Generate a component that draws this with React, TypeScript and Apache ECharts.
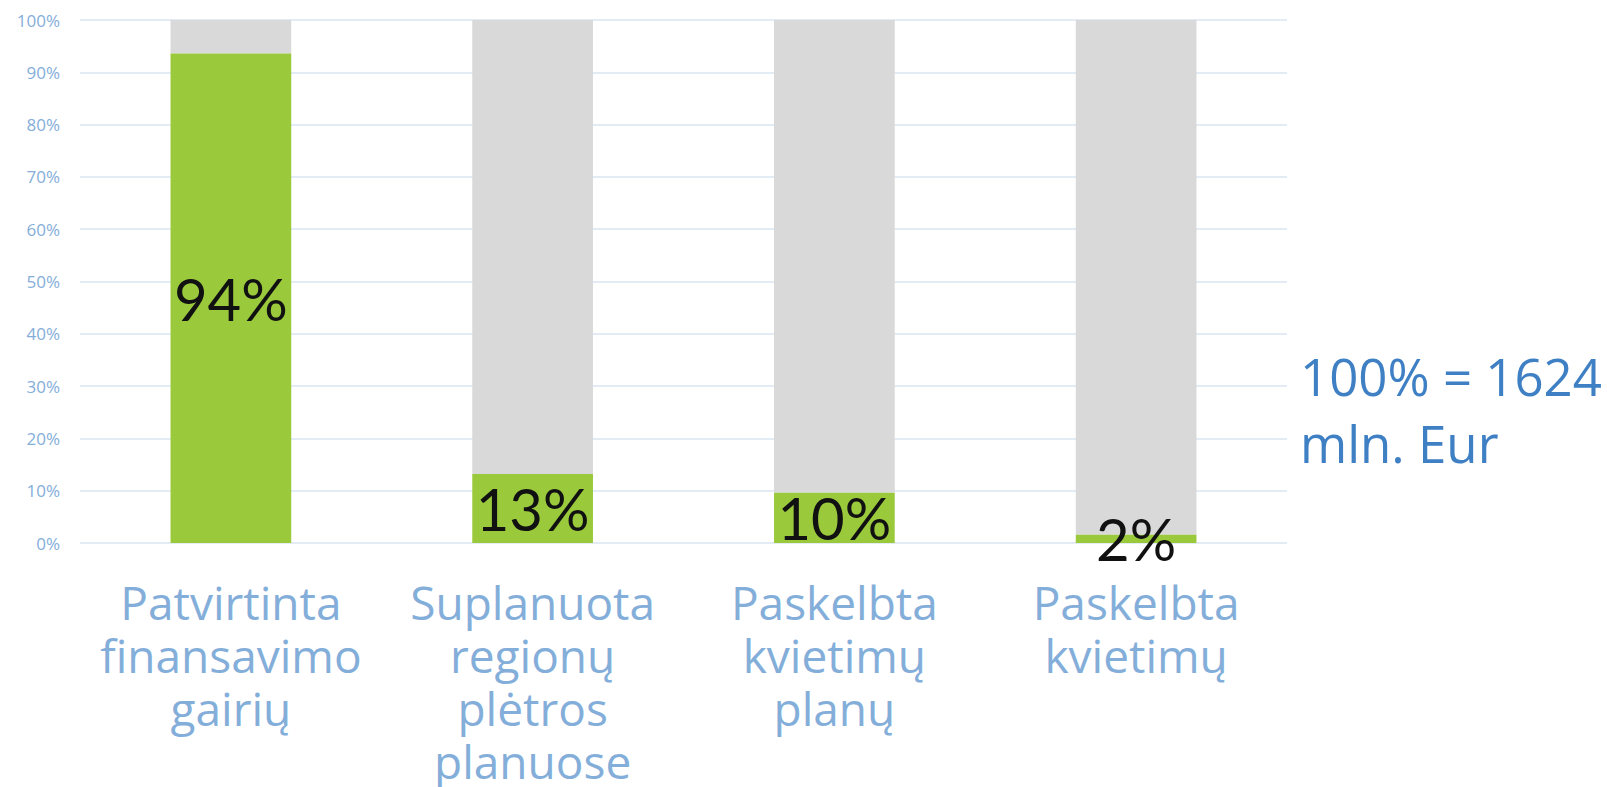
import React, { useEffect, useRef } from "react";
import * as echarts from "echarts";

const categories = [
  "Patvirtinta\nfinansavimo\ngairių",
  "Suplanuota\nregionų\nplėtros\nplanuose",
  "Paskelbta\nkvietimų\nplanų",
  "Paskelbta\nkvietimų",
];
const values = [93.6, 13.2, 9.6, 1.6];
const valueLabels = ["94%", "13%", "10%", "2%"];
const remainder = values.map((v) => 100 - v);
const yTicks = [0, 10, 20, 30, 40, 50, 60, 70, 80, 90, 100];
const noteLines = ["100% = 1624", "mln. Eur"];

export default function App() {
  const ref = useRef<HTMLDivElement>(null);
  useEffect(() => {
    if (!ref.current) return;
    const chart = echarts.init(ref.current, undefined, { renderer: "svg" });
    chart.setOption({
      animation: false,
      grid: { left: 80, right: 320, top: 20, bottom: 244, containLabel: false },
      xAxis: {
        type: "category",
        data: categories,
        axisLine: { show: false },
        axisTick: { show: false },
        axisLabel: {
          interval: 0,
          margin: 32,
          color: "#84AEDA",
          fontFamily: "Open Sans",
          fontSize: 46,
          lineHeight: 53,
        },
      },
      yAxis: {
        type: "value",
        min: yTicks[0],
        max: yTicks[yTicks.length - 1],
        interval: 10,
        axisLine: { show: false },
        axisTick: { show: false },
        splitLine: { lineStyle: { color: "#E3EBF4", width: 2 } },
        axisLabel: {
          margin: 20,
          color: "#84AEDA",
          fontFamily: "Open Sans",
          fontSize: 17,
          formatter: "{value}%",
        },
      },
      series: [
        {
          type: "bar",
          stack: "total",
          data: values,
          barWidth: "40%",
          itemStyle: { color: "#9ACA3C" },
          label: {
            show: true,
            position: "inside",
            color: "#111111",
            fontFamily: "Lato",
            fontSize: 58,
            formatter: (p: any) => valueLabels[p.dataIndex],
          },
          z: 3,
        },
        {
          type: "bar",
          stack: "total",
          data: remainder,
          barWidth: "40%",
          itemStyle: { color: "#D9D9D9" },
          z: 2,
        },
      ],
      graphic: [
        {
          type: "text",
          left: 1300,
          top: 342,
          style: {
            text: noteLines.join("\n"),
            fill: "#3F80C4",
            font: "51px 'Open Sans'",
            lineHeight: 67,
          },
        },
      ],
    });
    return () => chart.dispose();
  }, []);
  return (
    <div
      ref={ref}
      style={{ position: "fixed", left: 0, top: 0, width: 1607, height: 787, background: "#fff" }}
    />
  );
}
